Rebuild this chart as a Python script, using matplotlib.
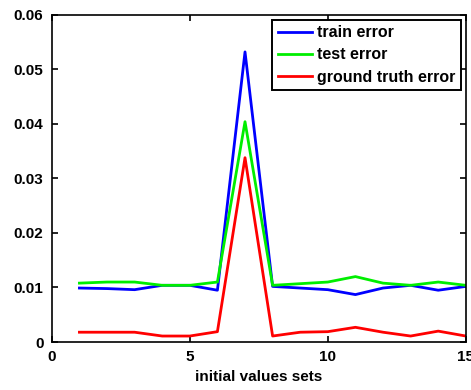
import matplotlib
matplotlib.use("Agg")
import matplotlib.pyplot as plt

x = list(range(1, 16))
train_error = [0.0099, 0.0098, 0.0096, 0.0104, 0.0104, 0.0095, 0.0532, 0.0102,
               0.0099, 0.0096, 0.0087, 0.0099, 0.0104, 0.0095, 0.0102]
test_error = [0.0108, 0.0110, 0.0110, 0.0104, 0.0104, 0.0110, 0.0404, 0.0104,
              0.0107, 0.0110, 0.0120, 0.0108, 0.0104, 0.0110, 0.0104]
ground_truth_error = [0.0018, 0.0018, 0.0018, 0.0011, 0.0011, 0.0019, 0.0338, 0.0011,
                      0.0018, 0.0019, 0.0027, 0.0018, 0.0011, 0.0020, 0.0011]
xticks = [0, 5, 10, 15]
yticks = [0, 0.01, 0.02, 0.03, 0.04, 0.05, 0.06]
ytick_labels = ["0", "0.01", "0.02", "0.03", "0.04", "0.05", "0.06"]

plt.rcParams['font.family'] = ['Liberation Sans', 'DejaVu Sans']
plt.rcParams['font.weight'] = 'bold'

fig = plt.figure(figsize=(4.71, 3.90), dpi=100)
ax = fig.add_axes([0.110, 0.123, 0.879, 0.839])

ax.plot(x, train_error, color='#0000ff', lw=2.0, label='train error')
ax.plot(x, test_error, color='#00ee00', lw=2.0, label='test error')
ax.plot(x, ground_truth_error, color='#ff0000', lw=2.0, label='ground truth error')

ax.set_xlim(0, 15)
ax.set_ylim(0, 0.06)
ax.set_xticks(xticks)
ax.set_xticklabels([str(t) for t in xticks])
ax.set_yticks(yticks)
ax.set_yticklabels(ytick_labels)
ax.tick_params(direction='in', top=True, right=True, length=4, width=1.2,
               labelsize=11, pad=6)
for lbl in ax.get_xticklabels() + ax.get_yticklabels():
    lbl.set_fontweight('bold')
for sp in ax.spines.values():
    sp.set_linewidth(1.2)

ax.set_xlabel('initial values sets', fontsize=11, fontweight='bold', labelpad=4)

leg = ax.legend(loc='upper right', fontsize=11.5, frameon=True, fancybox=False,
                edgecolor='black', framealpha=1, borderpad=0.35, labelspacing=0.45,
                handlelength=2.15, handletextpad=0.3, borderaxespad=0.3)
leg.get_frame().set_linewidth(1.4)
for t in leg.get_texts():
    t.set_fontweight('bold')

fig.savefig('out.png', dpi=100)
